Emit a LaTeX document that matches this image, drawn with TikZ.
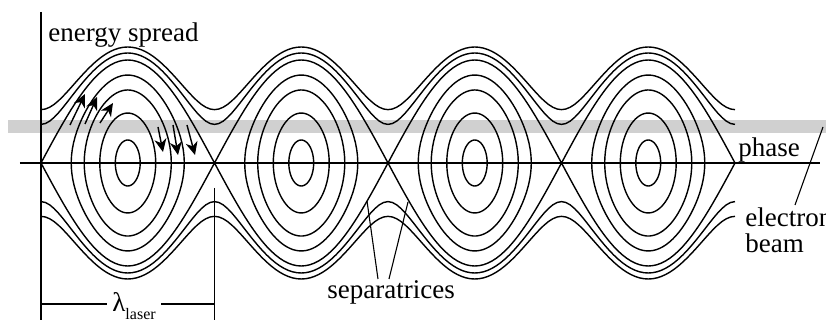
\documentclass[tikz,border=0pt]{standalone}
\usepackage{fontspec}
\setmainfont{Liberation Serif}
\usetikzlibrary{arrows.meta}
\definecolor{BeamGray}{HTML}{D0D0D0}
\newcommand{\lperiod}{173.5}
\newcommand{\sepamp}{103}

\begin{document}
\begin{tikzpicture}[
    x=0.5pt, y=0.5pt,
    orbit/.style={line width=0.7pt},
    axis/.style={line width=0.65pt},
    pointer/.style={line width=0.55pt},
    flow/.style={line width=0.7pt, -{Stealth[length=6.5pt, width=6pt, inset=2pt]}},
    label/.style={font=\fontsize{13.5}{15}\selectfont, inner sep=0pt}
]
\useasboundingbox (-41,-157) rectangle (785,163);

% electron beam band
\fill[BeamGray] (-33,30) rectangle (785,43);

% axes
\draw[axis] (-21,0) -- (779,0);
\draw[axis] (0,151) -- (0,-157);

% closed orbits inside the buckets
\foreach \c in {0,1,2,3}{
  \foreach \k in {0.223,0.485,0.709,0.854}{
    \draw[orbit, shift={(86.75+\c*\lperiod,0)}] plot[domain=0:360, samples=90, variable=\s]
      ({\lperiod/180*asin(\k*sin(\s))}, {\sepamp*\k*cos(\s)}) -- cycle;
  }
}

% separatrices
\draw[orbit] plot[domain=0:694, samples=161] (\x, {\sepamp*abs(sin(\x/\lperiod*180))});
\draw[orbit] plot[domain=0:694, samples=161] (\x, {-\sepamp*abs(sin(\x/\lperiod*180))});

% running orbits
\foreach \P in {110,116}{
  \draw[orbit] plot[domain=0:694, samples=161] (\x, {sqrt(\P*\P-\sepamp*\sepamp*cos(\x/\lperiod*180)^2)});
  \draw[orbit] plot[domain=0:694, samples=161] (\x, {-sqrt(\P*\P-\sepamp*\sepamp*cos(\x/\lperiod*180)^2)});
}

% direction of motion
\draw[flow] (29,38) -- (44,69);
\draw[flow] (44,39) -- (56,66);
\draw[flow] (59,40) -- (72,60);
\draw[flow] (117,36) -- (122,11);
\draw[flow] (132,38) -- (137,8);
\draw[flow] (146,38) -- (154,8);

% labels
\node[label, anchor=base west] (energy) at (7,121.5) {energy spread};
\node[label, anchor=base west] (phase) at (697,6.3) {phase};
\node[label, anchor=base west] (electron) at (704,-63.7) {electron};
\node[label, anchor=base west] (beam) at (704,-90) {beam};
\node[label, anchor=base west] (sepx) at (286,-135.3) {separatrices};

% pointers
\coordinate (beamTip) at (782,36);
\coordinate (beamFoot) at (754,-42);
\draw[pointer] (beamFoot) -- (beamTip);
\coordinate (sepTipA) at (326,-38);
\coordinate (sepTipB) at (367,-39);
\coordinate (sepFootA) at (337,-116);
\coordinate (sepFootB) at (348,-116);
\draw[pointer] (sepFootA) -- (sepTipA);
\draw[pointer] (sepFootB) -- (sepTipB);

% wavelength
\node[label, anchor=base west, inner xsep=2.5pt] (lam) at (66,-148.7)
  {λ\raisebox{-4pt}{\fontsize{8}{8}\selectfont laser}};
\coordinate (dimL) at (0,-141);
\coordinate (dimR) at (173.5,-141);
\coordinate (tickTop) at (173.5,-25);
\coordinate (tickEnd) at (173.5,-157);
\draw[axis] (dimL) -- (dimL -| lam.west);
\draw[axis] (lam.east |- dimR) -- (dimR);
\draw[axis] (tickTop) -- (tickEnd);
\end{tikzpicture}
\end{document}
